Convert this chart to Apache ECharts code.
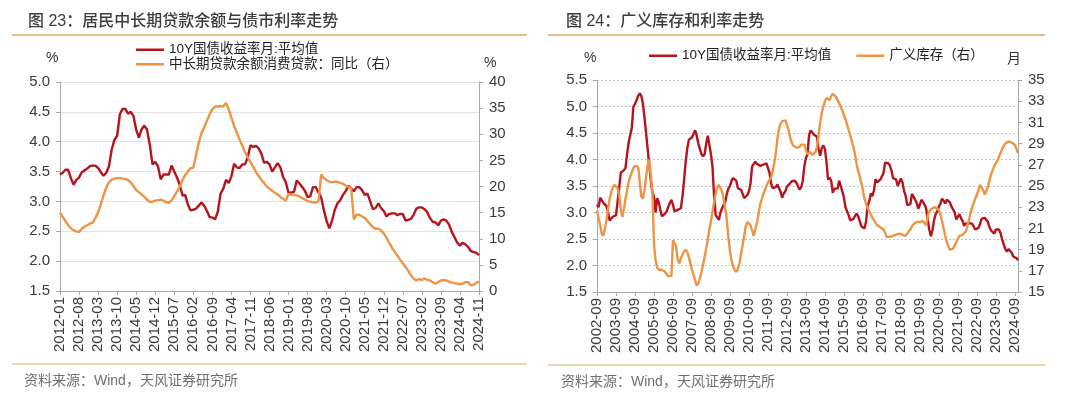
<!DOCTYPE html>
<html>
<head>
<meta charset="utf-8">
<script src="https://cdn.jsdelivr.net/npm/echarts@6.0.0/dist/echarts.min.js"></script>
<style>
  body { margin: 0; background: #fff; }
  #wrap { display: flex; width: 1080px; height: 399px; }
  #leftChart, #rightChart { width: 540px; height: 399px; }
</style>
</head>
<body>
<div id="wrap">
  <div id="leftChart"></div>
  <div id="rightChart"></div>
</div>
<script>
// month labels
function monthRange(year, month, count) {
  const out = [];
  for (let i = 0; i < count; i++) {
    const m = month - 1 + i;
    const y = year + Math.floor(m / 12);
    out.push(y + "-" + String((m % 12) + 1).padStart(2, "0"));
  }
  return out;
}

// 图23: 2012-01 ~ 2024-11
const leftMonths = monthRange(2012, 1, 155);

// 10Y国债收益率月:平均值 (%), 2012-01 ~ 2024-11
const yield2012on = [
  3.45, 3.48, 3.53, 3.53, 3.39, 3.28, 3.36, 3.40, 3.49, 3.52, 3.55, 3.59,
  3.60, 3.60, 3.56, 3.49, 3.43, 3.48, 3.59, 3.87, 4.03, 4.10, 4.46, 4.55,
  4.55, 4.47, 4.50, 4.43, 4.20, 4.07, 4.21, 4.27, 4.20, 3.95, 3.62, 3.66,
  3.59, 3.37, 3.45, 3.45, 3.45, 3.60, 3.50, 3.40, 3.28, 3.10, 3.11, 2.95,
  2.85, 2.86, 2.88, 2.93, 2.98, 2.93, 2.84, 2.74, 2.73, 2.70, 2.83, 3.13,
  3.21, 3.36, 3.31, 3.42, 3.63, 3.57, 3.56, 3.62, 3.62, 3.74, 3.94, 3.91,
  3.93, 3.89, 3.80, 3.65, 3.66, 3.62, 3.50, 3.57, 3.64, 3.57, 3.41, 3.32,
  3.14, 3.15, 3.16, 3.35, 3.30, 3.24, 3.18, 3.07, 3.09, 3.24, 3.24, 3.15,
  3.07, 2.85, 2.67, 2.55, 2.68, 2.86, 2.97, 3.02, 3.11, 3.17, 3.26, 3.22,
  3.17, 3.24, 3.24, 3.19, 3.11, 3.13, 3.00, 2.87, 2.89, 2.97, 2.89, 2.84,
  2.75, 2.79, 2.80, 2.80, 2.77, 2.79, 2.79, 2.68, 2.69, 2.71, 2.78, 2.88,
  2.90, 2.90, 2.87, 2.82, 2.72, 2.66, 2.65, 2.60, 2.68, 2.70, 2.68, 2.61,
  2.49, 2.40, 2.31, 2.26, 2.31, 2.28, 2.24, 2.17, 2.15, 2.14, 2.10
];

// 中长期贷款余额消费贷款：同比 (%), 2012-01 ~ 2024-11
const loanYoY = [
  15.0, 14.2, 13.4, 12.6, 12.0, 11.6, 11.4, 11.3, 11.9, 12.3, 12.6, 12.9,
  13.1, 14.0, 15.0, 16.6, 18.3, 19.8, 20.8, 21.3, 21.5, 21.6, 21.6, 21.5,
  21.4, 21.2, 20.8, 20.1, 19.3, 18.9, 18.5, 18.0, 17.5, 17.0, 17.1, 17.3,
  17.4, 17.5, 17.3, 17.0, 16.9, 17.3, 18.2, 19.0, 20.0, 21.2, 22.2, 22.9,
  23.5, 23.6, 26.0, 28.4, 30.2, 31.4, 32.6, 33.8, 34.8, 35.3, 35.3, 35.4,
  35.3, 36.0, 34.8, 33.2, 31.6, 30.3, 29.0, 27.8, 26.6, 25.6, 24.7, 23.8,
  22.8, 22.0, 21.3, 20.7, 20.0, 19.6, 19.2, 18.8, 18.5, 18.0, 17.6, 17.3,
  18.6, 18.4, 18.4, 18.3, 18.1, 17.8, 17.5, 17.2, 17.1, 17.0, 16.9, 17.2,
  22.3, 21.6, 21.2, 20.9, 20.8, 20.9, 20.9, 20.7, 20.5, 20.2, 19.9, 19.7,
  13.7, 14.6, 14.6, 14.3, 14.0, 13.4, 12.8, 12.2, 11.9, 11.9, 11.6, 11.0,
  10.2, 9.2, 8.3, 7.5, 6.8, 6.0, 5.3, 4.6, 3.9, 3.0, 2.4, 2.0,
  2.3, 2.1, 2.4, 2.1, 2.0, 1.7, 1.4, 1.7, 2.0, 2.1, 2.0, 1.8,
  1.6, 1.5, 1.4, 1.3, 1.4, 1.7, 1.7, 1.1, 1.2, 1.6, 1.8
];

// 图24: 2002-09 ~ 2024-11
const rightMonths = monthRange(2002, 9, 267);

// 10Y国债收益率月:平均值 (%), 2002-09 ~ 2011-12
const yieldTo2011 = [
  3.15, 3.10, 3.28, 3.25,
  3.18, 3.15, 3.12, 3.00, 2.85, 2.88, 2.92, 2.90, 2.95, 3.20, 3.45, 3.75,
  3.78, 3.80, 3.84, 4.10, 4.32, 4.34, 4.60, 5.00, 5.05, 5.12, 5.20, 5.25,
  5.20, 5.05, 4.80, 4.50, 4.20, 3.90, 3.60, 3.38, 3.30, 3.00, 3.27, 3.20,
  3.05, 2.93, 2.95, 2.98, 3.02, 3.10, 3.18, 3.24, 3.15, 3.02, 3.00, 3.05,
  3.05, 3.08, 3.30, 3.60, 3.95, 4.20, 4.37, 4.40, 4.42, 4.45, 4.55, 4.45,
  4.30, 4.20, 4.10, 4.06, 4.10, 4.30, 4.45, 4.46, 4.10, 3.85, 3.30, 2.95,
  2.95, 2.86, 3.00, 3.08, 3.10, 3.20, 3.35, 3.45, 3.50, 3.60, 3.65, 3.68,
  3.60, 3.46, 3.45, 3.43, 3.35, 3.27, 3.28, 3.33, 3.40, 3.55, 3.87, 3.90,
  3.96, 3.92, 3.90, 3.88, 3.87, 3.90, 3.93, 3.93, 3.90, 3.75, 3.55, 3.46
];
const yieldLong = yieldTo2011.concat(yield2012on);

// 广义库存（右, 月）, 2002-09 ~ 2024-11
const inventory = [
  22.7, 22.0, 21.3, 20.5,
  20.3, 21.0, 21.8, 22.8, 23.8, 24.4, 24.9, 25.1, 25.1, 24.8, 24.2, 22.8,
  22.1, 22.8, 23.8, 24.6, 25.4, 25.9, 26.3, 26.7, 26.9, 27.0, 26.8, 25.4,
  24.0, 23.8, 24.6, 25.8, 27.0, 27.5, 27.4, 24.5, 19.5, 18.0, 17.3, 17.1,
  17.2, 17.1, 17.0, 16.9, 16.7, 16.5, 16.4, 16.5, 19.9, 19.8, 19.3, 18.0,
  17.7, 18.2, 18.5, 18.8, 19.0, 18.8, 18.3, 17.7, 17.1, 16.6, 16.1, 15.6,
  15.8, 16.3, 16.9, 17.6, 18.3, 19.1, 20.0, 20.9, 21.7, 22.6, 23.5, 24.3,
  24.9, 25.1, 25.0, 24.5, 23.8, 22.9, 21.8, 20.2, 18.9, 18.0, 17.4, 17.1,
  16.9, 17.2, 17.7, 18.6, 19.4, 20.3, 21.2, 21.6, 21.6, 21.3, 20.8, 20.3,
  20.4, 21.5, 22.3, 23.2, 23.7, 24.2, 24.6, 25.0, 25.3, 25.6, 25.8, 26.4,
  27.2, 28.1, 29.5, 30.4, 30.9, 31.1, 31.2, 31.2, 30.8, 30.3, 29.6, 29.1,
  28.8, 28.7, 28.6, 28.6, 28.7, 28.9, 29.0, 28.9, 28.4, 28.0, 28.1, 28.2,
  27.9, 27.9, 28.2, 28.7, 29.8, 31.0, 31.9, 32.5, 33.0, 33.3, 33.2, 33.1,
  33.5, 33.7, 33.6, 33.4, 33.1, 32.8, 32.5, 32.1, 31.7, 31.3, 30.8, 30.3,
  29.8, 29.2, 28.7, 28.0, 27.1, 26.4, 25.9, 25.3, 24.6, 23.8, 23.3, 22.9,
  22.6, 22.3, 22.0, 21.8, 21.5, 21.3, 21.2, 21.1, 21.0, 20.9, 20.6, 20.2,
  20.1, 20.2, 20.2, 20.3, 20.2, 20.4, 20.4, 20.5, 20.5, 20.4, 20.3, 20.3,
  20.5, 20.7, 20.9, 21.2, 21.4, 21.5, 21.6, 21.6, 21.6, 21.5, 21.7, 21.6,
  21.3, 22.2, 22.6, 22.8, 22.9, 23.0, 22.9, 22.9, 22.7, 22.3, 21.7, 21.0,
  20.3, 19.7, 19.3, 19.0, 18.9, 19.1, 19.4, 19.7, 20.0, 20.3, 20.4, 20.4,
  20.5, 20.7, 21.2, 21.8, 22.4, 23.0, 23.4, 23.8, 24.2, 24.6, 25.1, 25.0,
  24.6, 24.2, 24.3, 24.9, 25.6, 26.1, 26.5, 26.9, 27.0, 27.4, 27.8, 28.1,
  28.5, 28.8, 29.0, 29.1, 29.2, 29.2, 29.1, 29.0, 28.9, 28.5, 28.1
];

const RED = "#B5141E";
const ORANGE = "#EE9444";
const GOLD = "#DFA65E";
const FONT = "'Liberation Sans', 'Noto Sans CJK SC', sans-serif";
const AXIS_GRAY = "#a8a8a8";
const YIELD_NAME = "10Y国债收益率月:平均值";

function frameGraphics(x1, x2, sourceX, sourceY) {
  return [
    { type: "line", shape: { x1: x1, y1: 35, x2: x2, y2: 35 }, style: { stroke: GOLD, lineWidth: 1.5 } },
    { type: "line", shape: { x1: x1, y1: sourceY, x2: x2, y2: sourceY }, style: { stroke: GOLD, lineWidth: 1.2 } },
    {
      type: "text", left: sourceX, top: sourceY + 10,
      style: { text: "资料来源：Wind，天风证券研究所", font: "14px " + FONT, fill: "#6f6f6f" }
    }
  ];
}

function drawLeftChart() {
  let leftChart = echarts.init(document.getElementById("leftChart"));
  let option = {
    animation: false,
    textStyle: { fontFamily: FONT },
    title: {
      text: "图 23：居民中长期贷款余额与债市利率走势",
      left: 23,
      top: 9,
      textStyle: { fontSize: 16, fontWeight: 500, color: "#3c3c3c", fontFamily: FONT }
    },
    legend: {
      orient: "vertical",
      left: 131,
      top: 38,
      itemWidth: 28,
      itemHeight: 2.5,
      itemGap: 1,
      icon: "rect",
      textStyle: { fontSize: 13.5, color: "#222" },
      data: [YIELD_NAME, "中长期贷款余额消费贷款：同比（右）"]
    },
    grid: { left: 60, right: 61, top: 82, bottom: 108 },
    xAxis: {
      type: "category",
      boundaryGap: false,
      data: leftMonths,
      axisLine: { lineStyle: { color: AXIS_GRAY } },
      axisTick: { interval: 6, length: 4, lineStyle: { color: AXIS_GRAY } },
      axisLabel: { interval: 6, rotate: 90, fontSize: 15, color: "#3a3a3a", margin: 6 }
    },
    yAxis: [
      {
        type: "value",
        min: 1.5,
        max: 5.0,
        interval: 0.5,
        axisLine: { show: true, lineStyle: { color: AXIS_GRAY } },
        axisTick: { show: true, length: 4, lineStyle: { color: AXIS_GRAY } },
        axisLabel: { fontSize: 15, color: "#3a3a3a", margin: 10, formatter: (v) => v.toFixed(1) },
        splitLine: { lineStyle: { color: "#e2e2e2" } }
      },
      {
        type: "value",
        min: 0,
        max: 40,
        interval: 5,
        position: "right",
        axisLine: { show: true, lineStyle: { color: AXIS_GRAY } },
        axisTick: { show: true, length: 4, lineStyle: { color: AXIS_GRAY } },
        axisLabel: { fontSize: 15, color: "#3a3a3a", margin: 10 },
        splitLine: { show: false }
      }
    ],
    series: [
      {
        name: YIELD_NAME,
        type: "line",
        data: yield2012on,
        symbol: "none",
        itemStyle: { color: RED },
        lineStyle: { color: RED, width: 2.4 }
      },
      {
        name: "中长期贷款余额消费贷款：同比（右）",
        type: "line",
        yAxisIndex: 1,
        data: loanYoY,
        symbol: "none",
        itemStyle: { color: ORANGE },
        lineStyle: { color: ORANGE, width: 2.4 }
      }
    ],
    graphic: frameGraphics(12, 527, 24, 364).concat([
      { type: "text", left: 46, top: 51, style: { text: "%", font: "14px " + FONT, fill: "#333" } },
      { type: "text", left: 484, top: 56, style: { text: "%", font: "14px " + FONT, fill: "#333" } }
    ])
  };
  leftChart.setOption(option);
}

function drawRightChart() {
  let rightChart = echarts.init(document.getElementById("rightChart"));
  let option = {
    animation: false,
    textStyle: { fontFamily: FONT },
    title: {
      text: "图 24：广义库存和利率走势",
      left: 21,
      top: 9,
      textStyle: { fontSize: 16, fontWeight: 500, color: "#3c3c3c", fontFamily: FONT }
    },
    legend: {
      left: 104,
      top: 44,
      itemWidth: 28,
      itemHeight: 2.5,
      itemGap: 25,
      icon: "rect",
      textStyle: { fontSize: 13.5, color: "#222" },
      data: [YIELD_NAME, "广义库存（右）"]
    },
    grid: { left: 57, right: 62, top: 80, bottom: 107 },
    xAxis: {
      type: "category",
      boundaryGap: false,
      data: rightMonths,
      axisLine: { lineStyle: { color: AXIS_GRAY } },
      axisTick: { interval: 11, length: 4, lineStyle: { color: AXIS_GRAY } },
      axisLabel: { interval: 11, rotate: 90, fontSize: 15, color: "#3a3a3a", margin: 6 }
    },
    yAxis: [
      {
        type: "value",
        min: 1.5,
        max: 5.5,
        interval: 0.5,
        axisLine: { show: true, lineStyle: { color: AXIS_GRAY } },
        axisTick: { show: true, length: 4, lineStyle: { color: AXIS_GRAY } },
        axisLabel: { fontSize: 15, color: "#3a3a3a", margin: 10, formatter: (v) => v.toFixed(1) },
        splitLine: { lineStyle: { color: "#c4c4c4", type: [2, 2] } }
      },
      {
        type: "value",
        min: 15,
        max: 35,
        interval: 2,
        position: "right",
        axisLine: { show: true, lineStyle: { color: AXIS_GRAY } },
        axisTick: { show: true, length: 4, lineStyle: { color: AXIS_GRAY } },
        axisLabel: { fontSize: 15, color: "#3a3a3a", margin: 10 },
        splitLine: { show: false }
      }
    ],
    series: [
      {
        name: YIELD_NAME,
        type: "line",
        data: yieldLong,
        symbol: "none",
        itemStyle: { color: RED },
        lineStyle: { color: RED, width: 2.4 }
      },
      {
        name: "广义库存（右）",
        type: "line",
        yAxisIndex: 1,
        data: inventory,
        symbol: "none",
        itemStyle: { color: ORANGE },
        lineStyle: { color: ORANGE, width: 2.4 }
      }
    ],
    graphic: frameGraphics(8, 505, 21, 365).concat([
      { type: "text", left: 44, top: 51, style: { text: "%", font: "14px " + FONT, fill: "#333" } },
      { type: "text", left: 467, top: 52, style: { text: "月", font: "14px " + FONT, fill: "#333" } }
    ])
  };
  rightChart.setOption(option);
}

drawLeftChart();
drawRightChart();
</script>
</body>
</html>
